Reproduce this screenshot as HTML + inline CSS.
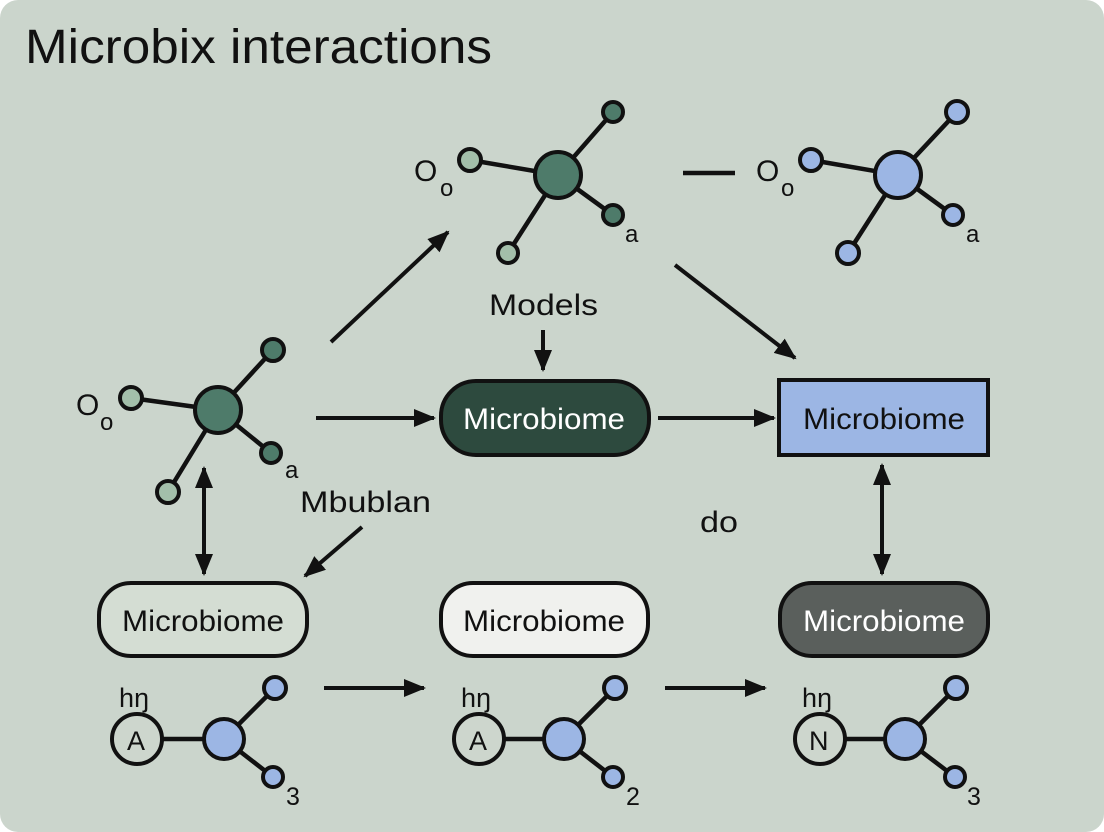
<!DOCTYPE html>
<html><head><meta charset="utf-8"><style>
html,body{margin:0;padding:0;background:#fff;}
svg{display:block;}
text{font-family:"Liberation Sans",sans-serif;fill:#111;}
</style></head><body>
<svg width="1104" height="832" viewBox="0 0 1104 832" xmlns="http://www.w3.org/2000/svg">
<defs>
<marker id="ah2" markerWidth="22" markerHeight="22" refX="20" refY="11" orient="auto-start-reverse" markerUnits="userSpaceOnUse" viewBox="0 0 22 22">
<path d="M0,2 L22,11 L0,20 z" fill="#111"/></marker>
</defs>
<rect x="0" y="0" width="1104" height="832" rx="18" fill="#cbd5cc"/>
<text x="25" y="63" font-size="48" textLength="467" lengthAdjust="spacingAndGlyphs">Microbix interactions</text>

<g stroke="#111" stroke-width="4.5" fill="none">
<line x1="558" y1="175" x2="613" y2="112"/><line x1="558" y1="175" x2="470" y2="160"/>
<line x1="558" y1="175" x2="613" y2="215"/><line x1="558" y1="175" x2="508" y2="253"/>
<line x1="898" y1="175" x2="957" y2="112"/><line x1="898" y1="175" x2="811" y2="160"/>
<line x1="898" y1="175" x2="953" y2="215"/><line x1="898" y1="175" x2="848" y2="253"/>
<line x1="218" y1="410" x2="273" y2="350"/><line x1="218" y1="410" x2="131" y2="398"/>
<line x1="218" y1="410" x2="271" y2="453"/><line x1="218" y1="410" x2="168" y2="492"/>
<line x1="137" y1="739" x2="224" y2="739"/><line x1="224" y1="739" x2="275" y2="688"/><line x1="224" y1="739" x2="273" y2="777"/>
<line x1="479" y1="739" x2="564" y2="739"/><line x1="564" y1="739" x2="615" y2="688"/><line x1="564" y1="739" x2="613" y2="777"/>
<line x1="820" y1="739" x2="905" y2="739"/><line x1="905" y1="739" x2="956" y2="688"/><line x1="905" y1="739" x2="955" y2="777"/>
<line x1="683" y1="173" x2="735" y2="173"/>
</g>
<g stroke="#111" stroke-width="4">
<circle cx="558" cy="175" r="23" fill="#4e7b6a"/>
<circle cx="613" cy="112" r="10" fill="#4e7b6a"/><circle cx="470" cy="160" r="11" fill="#a3bfaa"/>
<circle cx="613" cy="215" r="10" fill="#4e7b6a"/><circle cx="508" cy="253" r="10" fill="#a3bfaa"/>
<circle cx="898" cy="175" r="23" fill="#9cb6e4"/>
<circle cx="957" cy="112" r="11" fill="#9cb6e4"/><circle cx="811" cy="160" r="11" fill="#9cb6e4"/>
<circle cx="953" cy="215" r="10" fill="#9cb6e4"/><circle cx="848" cy="253" r="11" fill="#9cb6e4"/>
<circle cx="218" cy="410" r="23" fill="#4e7b6a"/>
<circle cx="273" cy="350" r="11" fill="#4e7b6a"/><circle cx="131" cy="398" r="11" fill="#a3bfaa"/>
<circle cx="271" cy="453" r="10" fill="#4e7b6a"/><circle cx="168" cy="492" r="11" fill="#a3bfaa"/>
<circle cx="137" cy="739" r="25" fill="#cdd6cd"/><circle cx="224" cy="739" r="20" fill="#9cb6e4"/>
<circle cx="275" cy="688" r="11" fill="#9cb6e4"/><circle cx="273" cy="777" r="10" fill="#9cb6e4"/>
<circle cx="479" cy="739" r="25" fill="#cdd6cd"/><circle cx="564" cy="739" r="20" fill="#9cb6e4"/>
<circle cx="615" cy="688" r="11" fill="#9cb6e4"/><circle cx="613" cy="777" r="10" fill="#9cb6e4"/>
<circle cx="820" cy="739" r="25" fill="#cdd6cd"/><circle cx="905" cy="739" r="20" fill="#9cb6e4"/>
<circle cx="956" cy="688" r="11" fill="#9cb6e4"/><circle cx="955" cy="777" r="10" fill="#9cb6e4"/>
</g>
<g font-size="30">
<text x="414" y="181">O</text><text x="440" y="196" font-size="24">o</text><text x="625" y="242" font-size="24">a</text>
<text x="756" y="181">O</text><text x="781" y="196" font-size="24">o</text><text x="966" y="242" font-size="24">a</text>
<text x="76" y="415">O</text><text x="100" y="430" font-size="24">o</text><text x="285" y="478" font-size="24">a</text>
<text x="119" y="707" font-size="27">hŋ</text><text x="127" y="750" font-size="27">A</text><text x="286" y="805" font-size="25">3</text>
<text x="461" y="707" font-size="27">hŋ</text><text x="469" y="750" font-size="27">A</text><text x="626" y="805" font-size="25">2</text>
<text x="802" y="707" font-size="27">hŋ</text><text x="809" y="750" font-size="27">N</text><text x="967" y="805" font-size="25">3</text>
<text x="489" y="315" textLength="109" lengthAdjust="spacingAndGlyphs">Models</text>
<text x="300" y="512" textLength="131" lengthAdjust="spacingAndGlyphs">Mbublan</text>
<text x="700" y="532" textLength="38" lengthAdjust="spacingAndGlyphs">do</text>
</g>
<g stroke="#111" stroke-width="4" fill="none">
<line x1="331" y1="342" x2="448" y2="232" marker-end="url(#ah2)"/>
<line x1="675" y1="265" x2="795" y2="358" marker-end="url(#ah2)"/>
<line x1="543" y1="330" x2="543" y2="370" marker-end="url(#ah2)"/>
<line x1="316" y1="418" x2="434" y2="418" marker-end="url(#ah2)"/>
<line x1="658" y1="418" x2="774" y2="418" marker-end="url(#ah2)"/>
<line x1="204" y1="468" x2="204" y2="574" marker-start="url(#ah2)" marker-end="url(#ah2)"/>
<line x1="362" y1="527" x2="305" y2="576" marker-end="url(#ah2)"/>
<line x1="882" y1="465" x2="882" y2="574" marker-start="url(#ah2)" marker-end="url(#ah2)"/>
<line x1="324" y1="688" x2="424" y2="688" marker-end="url(#ah2)"/>
<line x1="665" y1="688" x2="765" y2="688" marker-end="url(#ah2)"/>
</g>
<g stroke="#111" stroke-width="4">
<rect x="441" y="381" width="208" height="74" rx="35" fill="#2d4a3e"/>
<rect x="779" y="380" width="209" height="75" fill="#9cb6e4"/>
<rect x="99" y="583" width="208" height="73" rx="32" fill="#d4ddd3"/>
<rect x="441" y="583" width="207" height="73" rx="32" fill="#f0f1ee"/>
<rect x="780" y="583" width="208" height="73" rx="32" fill="#5a5f5c"/>
</g>
<g font-size="30">
<text x="463" y="429" textLength="162" lengthAdjust="spacingAndGlyphs" style="fill:#fff">Microbiome</text>
<text x="803" y="429" textLength="162" lengthAdjust="spacingAndGlyphs">Microbiome</text>
<text x="122" y="631" textLength="162" lengthAdjust="spacingAndGlyphs">Microbiome</text>
<text x="463" y="631" textLength="162" lengthAdjust="spacingAndGlyphs">Microbiome</text>
<text x="803" y="631" textLength="162" lengthAdjust="spacingAndGlyphs" style="fill:#fff">Microbiome</text>
</g>
</svg>
</body></html>
